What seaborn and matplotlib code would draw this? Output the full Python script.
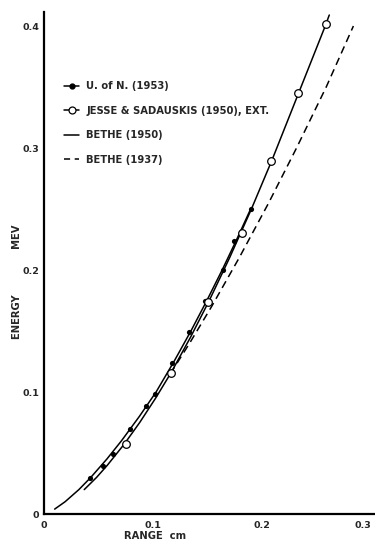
import matplotlib
matplotlib.use("Agg")
import matplotlib.pyplot as plt
from matplotlib.lines import Line2D
import seaborn as sns

# ---- data (range in cm, energy in MeV) ----
uofn_range = [0.0426, 0.0548, 0.0639, 0.0792, 0.0939, 0.1021, 0.1174, 0.1332, 0.1479, 0.1641, 0.1745, 0.1897]
uofn_energy = [0.0293, 0.0396, 0.0490, 0.0694, 0.0885, 0.0986, 0.1240, 0.1490, 0.1750, 0.1998, 0.2234, 0.2498]

jesse_range = [0.0753, 0.1168, 0.1509, 0.1815, 0.2086, 0.2333, 0.2584]
jesse_energy = [0.0571, 0.1158, 0.1740, 0.2300, 0.2896, 0.3448, 0.4014]

# U. of N. smooth curve
uofn_curve_range = [0.0102, 0.0197, 0.0324, 0.0433, 0.0580, 0.0714, 0.0878, 0.1031, 0.1195, 0.1350, 0.1496, 0.1636, 0.1769, 0.1897]
uofn_curve_energy = [0.004, 0.010, 0.020, 0.030, 0.045, 0.060, 0.080, 0.100, 0.125, 0.150, 0.175, 0.200, 0.225, 0.250]

# Bethe (1950)
bethe50_range = [0.0373, 0.0486, 0.0585, 0.0737, 0.0881, 0.1027, 0.1168, 0.1347, 0.1518, 0.1704, 0.1904, 0.2092, 0.2336, 0.2580, 0.2617]
bethe50_energy = [0.020, 0.030, 0.040, 0.057, 0.075, 0.095, 0.1158, 0.145, 0.175, 0.210, 0.250, 0.290, 0.345, 0.400, 0.409]

# Bethe (1937)
bethe37_range = [0.1162, 0.1338, 0.1539, 0.1792, 0.2062, 0.2317, 0.2589, 0.2838]
bethe37_energy = [0.115, 0.140, 0.170, 0.210, 0.255, 0.300, 0.350, 0.400]

x_ticks = [0, 0.1, 0.2, 0.3]
x_ticklabels = ["0", "0.1", "0.2", "0.3"]
y_ticks = [0, 0.1, 0.2, 0.3, 0.4]
y_ticklabels = ["0", "0.1", "0.2", "0.3", "0.4"]

legend_labels = ["U. of N. (1953)", "JESSE & SADAUSKIS (1950), EXT.", "BETHE (1950)", "BETHE (1937)"]

# ---- styling ----
sns.set_style("ticks")
plt.rcParams["font.family"] = ["DejaVu Sans"]
plt.rcParams["font.weight"] = "bold"

fig = plt.figure(figsize=(3.75, 5.42), dpi=100)
ax = fig.add_axes([43.5 / 375, 28 / 542, 1 - 43.5 / 375, 502 / 542])

lw = 1.1
sns.lineplot(x=uofn_curve_range, y=uofn_curve_energy, sort=False, estimator=None,
             color="black", linewidth=lw, ax=ax)
sns.lineplot(x=bethe50_range, y=bethe50_energy, sort=False, estimator=None,
             color="black", linewidth=lw, ax=ax)
sns.lineplot(x=bethe37_range, y=bethe37_energy, sort=False, estimator=None,
             color="black", linewidth=lw, ax=ax)
ax.lines[-1].set_dashes([5, 3.2])

sns.scatterplot(x=uofn_range, y=uofn_energy, color="black", s=14, linewidth=0, ax=ax, zorder=4)
sns.scatterplot(x=jesse_range, y=jesse_energy, facecolor="white", edgecolor="black",
                s=30, linewidth=0.9, ax=ax, zorder=5)

ax.set_xlim(0, 331.5 / 1092)
ax.set_ylim(0, 502 / 1220)
ax.set_xticks(x_ticks)
ax.set_xticklabels(x_ticklabels)
ax.set_yticks(y_ticks)
ax.set_yticklabels(y_ticklabels)
ax.tick_params(axis="both", length=0, labelsize=6.8)
ax.tick_params(axis="x", pad=5)
ax.tick_params(axis="y", pad=3)
for lab in ax.get_xticklabels() + ax.get_yticklabels():
    lab.set_fontweight("bold")
# keep the last x tick label inside the figure edge
ax.get_xticklabels()[-1].set_horizontalalignment("right")

sns.despine(ax=ax)
for side in ["left", "bottom"]:
    ax.spines[side].set_linewidth(1.6)
    ax.spines[side].set_color("black")

ax.set_xlabel("RANGE  cm", fontsize=7.2, fontweight="bold")
ax.xaxis.set_label_coords(0.336, -0.034)
ax.set_ylabel("ENERGY             MEV", fontsize=7.2, fontweight="bold")
ax.yaxis.set_label_coords(-0.066, 0.462)

handles = [
    Line2D([], [], color="black", linewidth=lw, marker="o", markersize=3.5),
    Line2D([], [], color="black", linewidth=lw, marker="o", markersize=5,
           markerfacecolor="white", markeredgewidth=0.9),
    Line2D([], [], color="black", linewidth=lw),
    Line2D([], [], color="black", linewidth=lw, dashes=[4, 3]),
]
leg = ax.legend(handles, legend_labels, loc="upper left", bbox_to_anchor=(0.063, 0.862),
                frameon=False, fontsize=7.2, handlelength=1.45, handletextpad=0.75,
                labelspacing=1.45, borderpad=0, borderaxespad=0)
for t in leg.get_texts():
    t.set_fontweight("bold")

fig.savefig("out.png", dpi=100)
